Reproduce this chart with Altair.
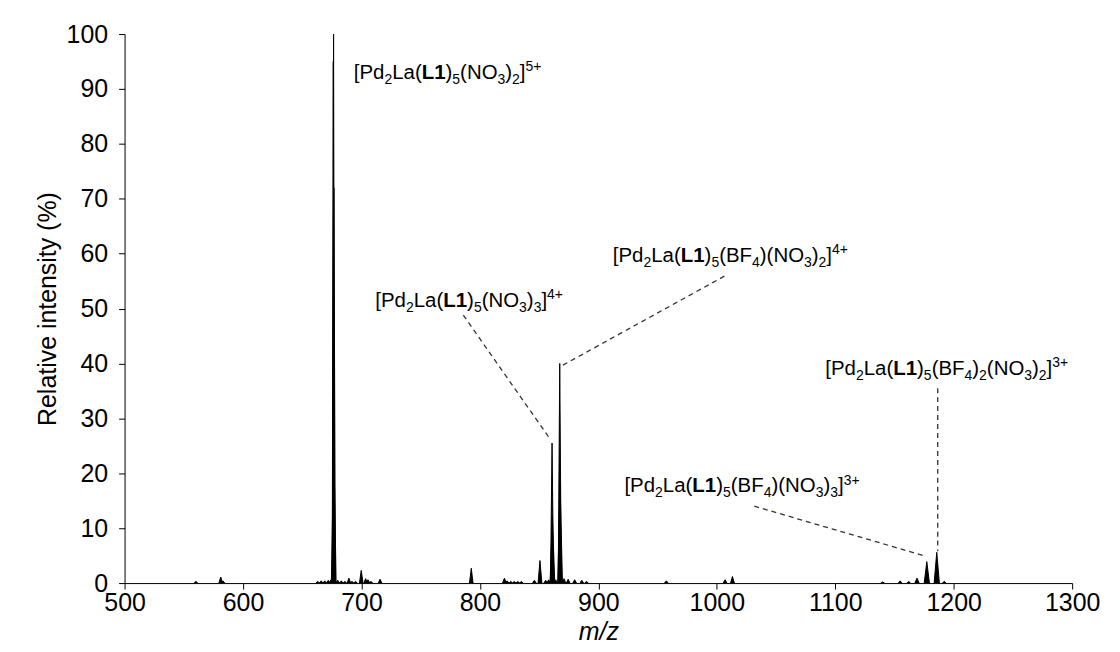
import altair as alt
import pandas as pd

FONT = "Liberation Sans"

# ---------------- spectrum peaks (m/z, relative intensity %, half width in m/z) ----------------
peak_mz = [560.2, 581.2, 583.0, 663.0, 666.0, 669.0, 672.0, 674.2,
           676.2, 676.45, 676.7, 676.6,
           680.0, 683.0, 686.0, 689.4, 692.0, 695.0,
           699.8, 703.5, 705.5, 708.0, 715.7,
           792.7, 820.7, 823.0, 826.0, 829.0, 832.0, 835.0, 846.0, 850.7,
           855.5, 858.0, 860.9, 861.2, 864.0, 867.4, 867.7, 871.0, 874.5, 880.0, 886.0, 890.0,
           957.4, 1007.0, 1013.2,
           1140.0, 1154.8, 1162.0, 1169.0, 1177.3, 1185.7, 1192.0]
peak_int = [0.3, 1.1, 0.4, 0.3, 0.4, 0.4, 0.5, 0.6,
            95.0, 100.0, 72.0, 26.0,
            0.5, 0.4, 0.3, 0.9, 0.3, 0.3,
            2.3, 0.8, 0.6, 0.3, 0.7,
            2.7, 0.9, 0.4, 0.3, 0.3, 0.3, 0.3, 0.5, 4.1,
            0.5, 0.6, 25.5, 12.0, 0.6, 40.0, 18.0, 0.8, 0.7, 0.6, 0.5, 0.3,
            0.4, 0.6, 1.2,
            0.2, 0.4, 0.3, 0.9, 3.9, 5.6, 0.3]
peak_hw = [1.5, 1.6, 1.5, 1.5, 1.5, 1.5, 1.5, 1.5,
           0.9, 0.9, 1.3, 2.0,
           1.5, 1.5, 1.5, 1.5, 1.5, 1.5,
           1.5, 1.5, 1.5, 1.5, 1.5,
           1.5, 1.6, 1.5, 1.5, 1.5, 1.5, 1.5, 1.5, 1.6,
           1.5, 1.5, 1.3, 2.0, 1.5, 1.3, 2.0, 1.5, 1.5, 1.5, 1.5, 1.5,
           1.5, 1.6, 1.6,
           1.5, 1.5, 1.5, 1.8, 2.2, 2.2, 1.5]

# ---------------- annotation labels ----------------
label_mz = [693.5, 711.7, 912.2, 1091.6, 922.0]
label_int = [91.8, 50.3, 58.5, 37.9, 16.5]
label_segments = [
    [("[Pd", "n"), ("2", "sub"), ("La(", "n"), ("L1", "b"), (")", "n"), ("5", "sub"),
     ("(NO", "n"), ("3", "sub"), (")", "n"), ("2", "sub"), ("]", "n"), ("5+", "sup")],
    [("[Pd", "n"), ("2", "sub"), ("La(", "n"), ("L1", "b"), (")", "n"), ("5", "sub"),
     ("(NO", "n"), ("3", "sub"), (")", "n"), ("3", "sub"), ("]", "n"), ("4+", "sup")],
    [("[Pd", "n"), ("2", "sub"), ("La(", "n"), ("L1", "b"), (")", "n"), ("5", "sub"),
     ("(BF", "n"), ("4", "sub"), (")(NO", "n"), ("3", "sub"), (")", "n"), ("2", "sub"),
     ("]", "n"), ("4+", "sup")],
    [("[Pd", "n"), ("2", "sub"), ("La(", "n"), ("L1", "b"), (")", "n"), ("5", "sub"),
     ("(BF", "n"), ("4", "sub"), (")", "n"), ("2", "sub"), ("(NO", "n"), ("3", "sub"),
     (")", "n"), ("2", "sub"), ("]", "n"), ("3+", "sup")],
    [("[Pd", "n"), ("2", "sub"), ("La(", "n"), ("L1", "b"), (")", "n"), ("5", "sub"),
     ("(BF", "n"), ("4", "sub"), (")(NO", "n"), ("3", "sub"), (")", "n"), ("3", "sub"),
     ("]", "n"), ("3+", "sup")],
]

# ---------------- dashed leader lines ----------------
lead_mz = [786.0, 1006.4, 1186.5, 1031.6]
lead_int = [48.8, 55.9, 35.5, 14.0]
lead_mz2 = [858.4, 870.1, 1186.5, 1174.7]
lead_int2 = [26.5, 39.7, 5.8, 5.0]

x_ticks = [500, 600, 700, 800, 900, 1000, 1100, 1200, 1300]
y_ticks = [0, 10, 20, 30, 40, 50, 60, 70, 80, 90, 100]

# ---------------- build tables ----------------
rows = []
for i, (c, h, w) in enumerate(zip(peak_mz, peak_int, peak_hw)):
    rows.append(dict(pid=i, mz=c - w, inten=0.0))
    rows.append(dict(pid=i, mz=c, inten=h))
    rows.append(dict(pid=i, mz=c + w, inten=0.0))
spec_df = pd.DataFrame(rows)

lead_df = pd.DataFrame(dict(mz=lead_mz, inten=lead_int, mz2=lead_mz2, inten2=lead_int2))

# Arial / Liberation Sans advance widths (1/1000 em)
W_REG = {"[": 278, "]": 278, "(": 333, ")": 333, "+": 584, "P": 667, "d": 556, "L": 556,
         "a": 556, "N": 722, "O": 778, "B": 667, "F": 611}
for dgt in "0123456789":
    W_REG[dgt] = 556
W_BOLD = {"L": 611, "1": 556}

FS = 20.5
SUB_FS = 14.0
SUB_DY = 5.0
SUP_DY = -8.0
AXIS_FS = 25


def seg_width(txt, style):
    if style == "b":
        return sum(W_BOLD.get(ch, 556) for ch in txt) * FS / 1000.0
    size = SUB_FS if style in ("sub", "sup") else FS
    return sum(W_REG.get(ch, 556) for ch in txt) * size / 1000.0


x_scale = alt.Scale(domain=[500, 1300], nice=False, zero=False)
y_scale = alt.Scale(domain=[0, 100], nice=False, zero=False)

spectrum = alt.Chart(spec_df).mark_area(
    color="black", stroke="black", strokeWidth=1.0, clip=True
).encode(
    x=alt.X("mz:Q", scale=x_scale, title="m/z",
            axis=alt.Axis(values=x_ticks, format="d", grid=False, tickSize=6,
                          labelFontSize=AXIS_FS, labelFont=FONT, labelColor="black",
                          titleFont=FONT, titleFontSize=AXIS_FS, titleFontStyle="italic",
                          titleFontWeight="normal", titleColor="black",
                          domainColor="black", tickColor="black", labelPadding=2,
                          titlePadding=4, labelFlush=False)),
    y=alt.Y("inten:Q", scale=y_scale, stack=None, title="Relative intensity (%)",
            axis=alt.Axis(values=y_ticks, grid=False, tickSize=6,
                          labelFontSize=AXIS_FS, labelFont=FONT, labelColor="black",
                          titleFont=FONT, titleFontSize=AXIS_FS, titleFontWeight="normal",
                          titleColor="black", domainColor="black", tickColor="black",
                          labelPadding=11, titlePadding=6, labelFlush=False)),
    detail="pid:N",
)

leaders = alt.Chart(lead_df).mark_rule(
    color="#333333", strokeWidth=1.3, strokeDash=[5, 4]
).encode(
    x=alt.X("mz:Q", scale=x_scale, title="m/z"),
    y=alt.Y("inten:Q", scale=y_scale, title="Relative intensity (%)"),
    x2="mz2:Q",
    y2="inten2:Q",
)

layers = [spectrum, leaders]
for lx, ly, segs in zip(label_mz, label_int, label_segments):
    off = 0.0
    for txt, style in segs:
        size = SUB_FS if style in ("sub", "sup") else FS
        dy = SUB_DY if style == "sub" else (SUP_DY if style == "sup" else 0.0)
        weight = "bold" if style == "b" else "normal"
        seg_df = pd.DataFrame(dict(mz=[lx], inten=[ly], t=[txt]))
        layers.append(
            alt.Chart(seg_df).mark_text(
                align="left", baseline="alphabetic", dx=off, dy=dy,
                fontSize=size, fontWeight=weight, font=FONT, color="black"
            ).encode(
                x=alt.X("mz:Q", scale=x_scale, title="m/z"),
                y=alt.Y("inten:Q", scale=y_scale, title="Relative intensity (%)"),
                text="t:N",
            )
        )
        off += seg_width(txt, style)

chart = alt.layer(*layers).properties(
    width=951,
    height=551,
    padding={"left": 117, "top": 25, "right": 40, "bottom": 60},
    autosize=alt.AutoSizeParams(type="none"),
    background="white",
).configure_view(stroke=None)

chart.save("out.html", embed_options={"renderer": "svg", "actions": False})
